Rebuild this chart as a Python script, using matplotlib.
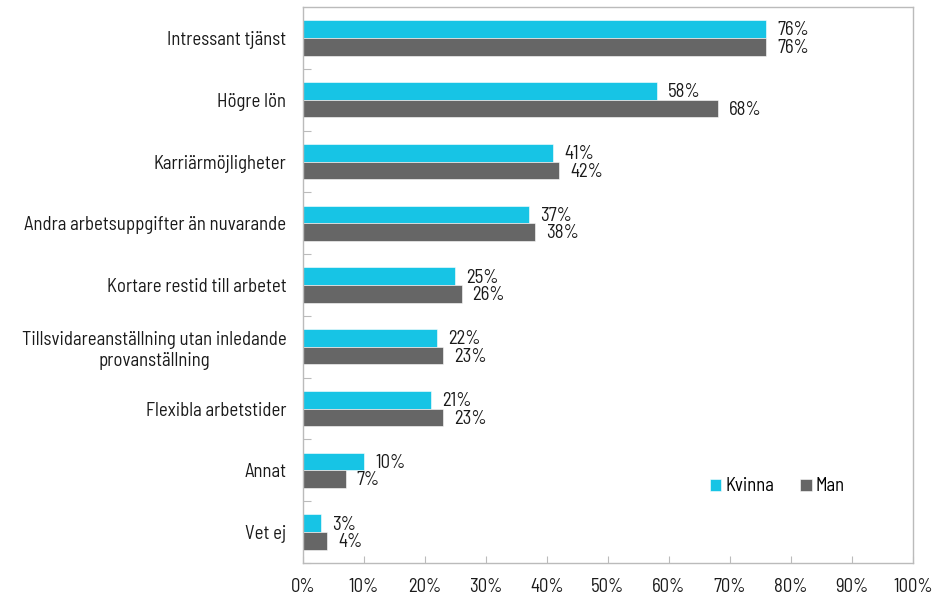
import numpy as np
import matplotlib
matplotlib.use("Agg")
import matplotlib.pyplot as plt
from matplotlib.ticker import FixedLocator, NullFormatter, PercentFormatter

plt.rcParams['font.family'] = ['Barlow Semi Condensed', 'DejaVu Sans']

categories = [
    "Intressant tjänst",
    "Högre lön",
    "Karriärmöjligheter",
    "Andra arbetsuppgifter än nuvarande",
    "Kortare restid till arbetet",
    "Tillsvidareanställning utan inledande\nprovanställning",
    "Flexibla arbetstider",
    "Annat",
    "Vet ej",
]
kvinna = [76, 58, 41, 37, 25, 22, 21, 10, 3]
man = [76, 68, 42, 38, 26, 23, 23, 7, 4]
series_names = ["Kvinna", "Man"]
colors = ["#17C4E5", "#666666"]

fs = 13.5
fig = plt.figure(figsize=(9.44, 5.97), dpi=100)
ax = fig.add_axes([0.321, 0.057, 0.646, 0.931])

n = len(categories)
y = np.arange(n)
h = 0.285

for vals, off, col, name in [(kvinna, -h / 2, colors[0], series_names[0]),
                             (man, h / 2, colors[1], series_names[1])]:
    bars = ax.barh(y + off, vals, height=h, color=col, label=name,
                   edgecolor="white", linewidth=0.4)
    for b, v in zip(bars, vals):
        ax.text(b.get_width() + 1.8, b.get_y() + b.get_height() / 2 + 0.02,
                f"{v}%", va="center", ha="left", fontsize=fs, color="#1a1a1a")

ax.set_xlim(0, 100)
ax.set_ylim(n - 0.5, -0.5)
ax.set_xticks(np.arange(0, 101, 10))
ax.xaxis.set_major_formatter(PercentFormatter(decimals=0))
ax.tick_params(axis="x", direction="in", length=5, color="#bbbbbb",
               labelsize=fs, pad=11, labelcolor="#1a1a1a")

ax.yaxis.set_major_locator(FixedLocator(y + 0.5))
ax.yaxis.set_major_formatter(NullFormatter())
ax.yaxis.set_minor_locator(FixedLocator(y))
ax.set_yticklabels(categories, minor=True)
ax.tick_params(axis="y", which="major", direction="in", length=6, color="#bbbbbb")
ax.tick_params(axis="y", which="minor", length=0, pad=12, labelsize=fs,
               labelcolor="#1a1a1a")
for lbl in ax.get_yticklabels(minor=True):
    lbl.set_multialignment("center")

for s in ax.spines.values():
    s.set_color("#bbbbbb")
    s.set_linewidth(1)

ax.legend(loc="center left", bbox_to_anchor=(0.64, 0.138), ncol=2, frameon=False,
          fontsize=fs, handlelength=0.6, handleheight=0.6, handletextpad=0.2,
          columnspacing=1.4)

fig.savefig("out.png", dpi=100)
